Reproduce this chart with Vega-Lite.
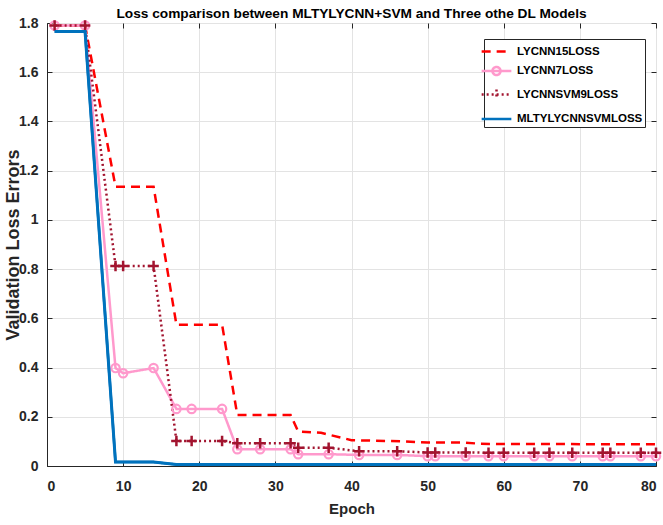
{
  "$schema": "https://vega.github.io/schema/vega-lite/v6.json",
  "width": 609,
  "height": 443,
  "autosize": {"type": "none"},
  "padding": {"left": 47, "top": 23, "right": 7, "bottom": 59},
  "background": "white",
  "config": {
    "font": "Liberation Sans",
    "view": {"stroke": "#262626", "strokeWidth": 1},
    "axis": {
      "labelFont": "Liberation Sans",
      "labelFontWeight": "bold",
      "labelFontSize": 14,
      "labelColor": "#262626",
      "titleFont": "Liberation Sans",
      "titleFontWeight": "bold",
      "titleColor": "#262626",
      "domainColor": "#262626",
      "tickColor": "#262626",
      "gridColor": "#e3e3e3",
      "gridWidth": 1
    }
  },
  "title": {
    "text": "Loss comparison between MLTYLYCNN+SVM and Three othe DL Models",
    "font": "Liberation Sans",
    "fontSize": 13.7,
    "fontWeight": "bold",
    "color": "#000000",
    "anchor": "middle",
    "offset": -5
  },
  "data": {
    "values": [
      {"epoch": 1, "loss": 1.79, "series": "LYCNN15LOSS"},
      {"epoch": 5, "loss": 1.79, "series": "LYCNN15LOSS"},
      {"epoch": 9, "loss": 1.135, "series": "LYCNN15LOSS"},
      {"epoch": 14, "loss": 1.135, "series": "LYCNN15LOSS"},
      {"epoch": 17, "loss": 0.574, "series": "LYCNN15LOSS"},
      {"epoch": 23, "loss": 0.574, "series": "LYCNN15LOSS"},
      {"epoch": 25, "loss": 0.207, "series": "LYCNN15LOSS"},
      {"epoch": 32, "loss": 0.207, "series": "LYCNN15LOSS"},
      {"epoch": 33, "loss": 0.14, "series": "LYCNN15LOSS"},
      {"epoch": 36, "loss": 0.135, "series": "LYCNN15LOSS"},
      {"epoch": 40, "loss": 0.105, "series": "LYCNN15LOSS"},
      {"epoch": 47, "loss": 0.1, "series": "LYCNN15LOSS"},
      {"epoch": 50, "loss": 0.095, "series": "LYCNN15LOSS"},
      {"epoch": 55, "loss": 0.095, "series": "LYCNN15LOSS"},
      {"epoch": 57, "loss": 0.09, "series": "LYCNN15LOSS"},
      {"epoch": 80, "loss": 0.088, "series": "LYCNN15LOSS"},

      {"epoch": 1, "loss": 1.79, "series": "LYCNN7LOSS"},
      {"epoch": 5, "loss": 1.79, "series": "LYCNN7LOSS"},
      {"epoch": 9, "loss": 0.398, "series": "LYCNN7LOSS"},
      {"epoch": 10, "loss": 0.377, "series": "LYCNN7LOSS"},
      {"epoch": 14, "loss": 0.398, "series": "LYCNN7LOSS"},
      {"epoch": 17, "loss": 0.232, "series": "LYCNN7LOSS"},
      {"epoch": 19, "loss": 0.232, "series": "LYCNN7LOSS"},
      {"epoch": 23, "loss": 0.232, "series": "LYCNN7LOSS"},
      {"epoch": 25, "loss": 0.068, "series": "LYCNN7LOSS"},
      {"epoch": 28, "loss": 0.068, "series": "LYCNN7LOSS"},
      {"epoch": 32, "loss": 0.068, "series": "LYCNN7LOSS"},
      {"epoch": 33, "loss": 0.048, "series": "LYCNN7LOSS"},
      {"epoch": 37, "loss": 0.048, "series": "LYCNN7LOSS"},
      {"epoch": 41, "loss": 0.045, "series": "LYCNN7LOSS"},
      {"epoch": 46, "loss": 0.045, "series": "LYCNN7LOSS"},
      {"epoch": 50, "loss": 0.04, "series": "LYCNN7LOSS"},
      {"epoch": 51, "loss": 0.04, "series": "LYCNN7LOSS"},
      {"epoch": 55, "loss": 0.04, "series": "LYCNN7LOSS"},
      {"epoch": 58, "loss": 0.04, "series": "LYCNN7LOSS"},
      {"epoch": 60, "loss": 0.04, "series": "LYCNN7LOSS"},
      {"epoch": 64, "loss": 0.04, "series": "LYCNN7LOSS"},
      {"epoch": 66, "loss": 0.04, "series": "LYCNN7LOSS"},
      {"epoch": 69, "loss": 0.04, "series": "LYCNN7LOSS"},
      {"epoch": 73, "loss": 0.04, "series": "LYCNN7LOSS"},
      {"epoch": 74, "loss": 0.04, "series": "LYCNN7LOSS"},
      {"epoch": 78, "loss": 0.04, "series": "LYCNN7LOSS"},
      {"epoch": 80, "loss": 0.04, "series": "LYCNN7LOSS"},

      {"epoch": 1, "loss": 1.79, "series": "LYCNNSVM9LOSS"},
      {"epoch": 5, "loss": 1.79, "series": "LYCNNSVM9LOSS"},
      {"epoch": 9, "loss": 0.813, "series": "LYCNNSVM9LOSS"},
      {"epoch": 10, "loss": 0.813, "series": "LYCNNSVM9LOSS"},
      {"epoch": 14, "loss": 0.813, "series": "LYCNNSVM9LOSS"},
      {"epoch": 17, "loss": 0.102, "series": "LYCNNSVM9LOSS"},
      {"epoch": 19, "loss": 0.102, "series": "LYCNNSVM9LOSS"},
      {"epoch": 23, "loss": 0.102, "series": "LYCNNSVM9LOSS"},
      {"epoch": 25, "loss": 0.092, "series": "LYCNNSVM9LOSS"},
      {"epoch": 28, "loss": 0.092, "series": "LYCNNSVM9LOSS"},
      {"epoch": 32, "loss": 0.092, "series": "LYCNNSVM9LOSS"},
      {"epoch": 33, "loss": 0.074, "series": "LYCNNSVM9LOSS"},
      {"epoch": 37, "loss": 0.074, "series": "LYCNNSVM9LOSS"},
      {"epoch": 41, "loss": 0.06, "series": "LYCNNSVM9LOSS"},
      {"epoch": 46, "loss": 0.06, "series": "LYCNNSVM9LOSS"},
      {"epoch": 50, "loss": 0.055, "series": "LYCNNSVM9LOSS"},
      {"epoch": 51, "loss": 0.055, "series": "LYCNNSVM9LOSS"},
      {"epoch": 55, "loss": 0.055, "series": "LYCNNSVM9LOSS"},
      {"epoch": 58, "loss": 0.054, "series": "LYCNNSVM9LOSS"},
      {"epoch": 60, "loss": 0.054, "series": "LYCNNSVM9LOSS"},
      {"epoch": 64, "loss": 0.054, "series": "LYCNNSVM9LOSS"},
      {"epoch": 66, "loss": 0.054, "series": "LYCNNSVM9LOSS"},
      {"epoch": 69, "loss": 0.054, "series": "LYCNNSVM9LOSS"},
      {"epoch": 73, "loss": 0.054, "series": "LYCNNSVM9LOSS"},
      {"epoch": 74, "loss": 0.054, "series": "LYCNNSVM9LOSS"},
      {"epoch": 78, "loss": 0.054, "series": "LYCNNSVM9LOSS"},
      {"epoch": 80, "loss": 0.054, "series": "LYCNNSVM9LOSS"},

      {"epoch": 1, "loss": 1.765, "series": "MLTYLYCNNSVMLOSS"},
      {"epoch": 5, "loss": 1.765, "series": "MLTYLYCNNSVMLOSS"},
      {"epoch": 9, "loss": 0.016, "series": "MLTYLYCNNSVMLOSS"},
      {"epoch": 14, "loss": 0.016, "series": "MLTYLYCNNSVMLOSS"},
      {"epoch": 17, "loss": 0.006, "series": "MLTYLYCNNSVMLOSS"},
      {"epoch": 80, "loss": 0.006, "series": "MLTYLYCNNSVMLOSS"}
    ]
  },
  "layer": [
    {
      "mark": {"type": "line", "strokeWidth": 2.5, "clip": true},
      "encoding": {
        "x": {
          "field": "epoch", "type": "quantitative",
          "scale": {"domain": [0, 80], "nice": false},
          "axis": {"title": "Epoch", "titleFontSize": 15, "values": [0,10,20,30,40,50,60,70,80], "tickSize": -5, "labelPadding": 18, "titlePadding": 8, "grid": true}
        },
        "y": {
          "field": "loss", "type": "quantitative",
          "scale": {"domain": [0, 1.8], "nice": false},
          "axis": {"title": "Validation Loss Errors", "titleFontSize": 18, "values": [0,0.2,0.4,0.6,0.8,1,1.2,1.4,1.6,1.8], "format": "~g", "tickSize": -5, "labelPadding": 14, "titlePadding": -4, "grid": true}
        },
        "color": {
          "field": "series", "type": "nominal",
          "scale": {
            "domain": ["LYCNN15LOSS", "LYCNN7LOSS", "LYCNNSVM9LOSS", "MLTYLYCNNSVMLOSS"],
            "range": ["#ff0000", "#ff99cc", "#a2142f", "#0072bd"]
          },
          "legend": {
            "title": null,
            "orient": "none",
            "legendX": 437,
            "legendY": 16,
            "symbolType": "stroke",
            "symbolSize": 324,
            "symbolStrokeWidth": 2.5,
            "labelFont": "Liberation Sans",
            "labelFontWeight": "bold",
            "labelFontSize": 11.5,
            "labelColor": "#000000",
            "fillColor": "white",
            "strokeColor": "#262626",
            "padding": 2,
            "rowPadding": 3.5,
            "labelOffset": 10,
            "encode": {
              "symbols": {
                "update": {
                  "shape": {"signal": "datum.value === 'LYCNN7LOSS' ? 'M-1.65,0H1.65M0.45,0A0.45,0.45,0,1,1,-0.45,0A0.45,0.45,0,1,1,0.45,0' : datum.value === 'LYCNNSVM9LOSS' ? 'M-1.65,0H1.65M0,-0.55V0.55' : 'M-1.65,0H1.65'"},
                  "fill": {"value": "transparent"}
                }
              }
            }
          }
        },
        "strokeDash": {
          "field": "series", "type": "nominal",
          "scale": {
            "domain": ["LYCNN15LOSS", "LYCNN7LOSS", "LYCNNSVM9LOSS", "MLTYLYCNNSVMLOSS"],
            "range": [[9, 6], [1, 0], [2, 3], [1, 0]]
          },
          "legend": null
        }
      }
    },
    {
      "transform": [{"filter": "datum.series === 'LYCNN7LOSS'"}],
      "mark": {"type": "point", "shape": "circle", "filled": false, "color": "#ff99cc", "size": 70, "strokeWidth": 2.2, "opacity": 1},
      "encoding": {
        "x": {"field": "epoch", "type": "quantitative", "axis": null},
        "y": {"field": "loss", "type": "quantitative", "axis": null}
      }
    },
    {
      "transform": [{"filter": "datum.series === 'LYCNNSVM9LOSS'"}],
      "mark": {"type": "point", "shape": "M-1,0H1M0,-1V1", "filled": false, "color": "#a2142f", "size": 110, "strokeWidth": 2.5, "opacity": 1},
      "encoding": {
        "x": {"field": "epoch", "type": "quantitative", "axis": null},
        "y": {"field": "loss", "type": "quantitative", "axis": null}
      }
    },
    {
      "transform": [{"filter": "datum.series === 'MLTYLYCNNSVMLOSS'"}],
      "mark": {"type": "line", "strokeWidth": 3, "color": "#0072bd"},
      "encoding": {
        "x": {"field": "epoch", "type": "quantitative",
          "axis": {"orient": "top", "labels": false, "title": null, "grid": false, "domain": false, "tickSize": -5, "values": [0,10,20,30,40,50,60,70,80]}},
        "y": {"field": "loss", "type": "quantitative",
          "axis": {"orient": "right", "labels": false, "title": null, "grid": false, "domain": false, "tickSize": -5, "values": [0,0.2,0.4,0.6,0.8,1,1.2,1.4,1.6,1.8]}}
      }
    }
  ],
  "resolve": {"axis": {"x": "independent", "y": "independent"}}
}
